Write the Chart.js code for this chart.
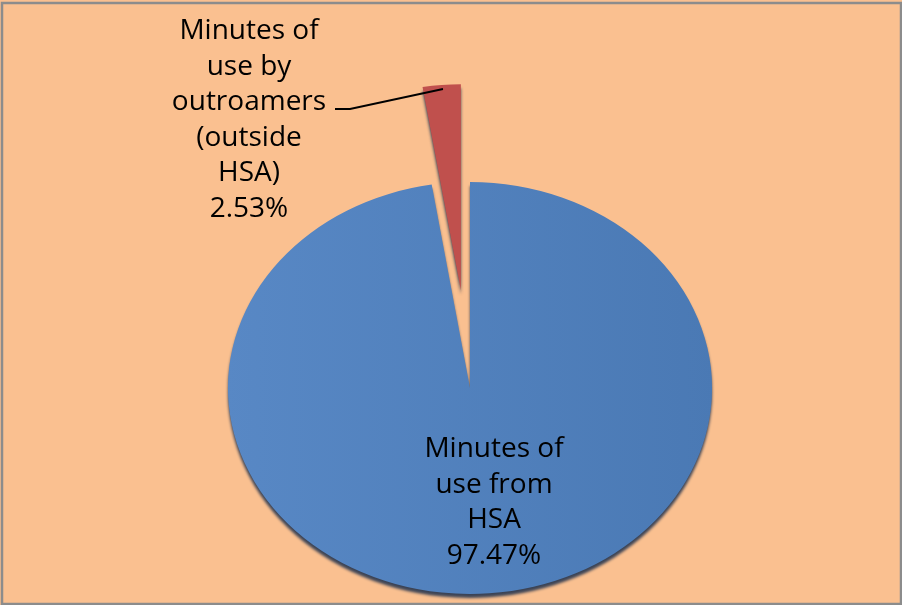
<!DOCTYPE html>
<html>
<head>
<meta charset="utf-8">
<script src="https://cdn.jsdelivr.net/npm/chart.js@4.4.1/dist/chart.umd.min.js"></script>
<style>
  html, body { margin: 0; padding: 0; background: #fff; }
  #wrap { width: 902px; height: 605px; position: relative; }
</style>
</head>
<body>
<div id="wrap"><canvas id="pie" width="902" height="605"></canvas></div>
<script>
// données
const categories = ['Minutes of use from HSA', 'Minutes of use by outroamers (outside HSA)'];
const shares = [97.47, 2.53];
const labelLines = [
    ['Minutes of', 'use from', 'HSA', '97.47%'],
    ['Minutes of', 'use by', 'outroamers', '(outside', 'HSA)', '2.53%']
];

const bgColor = '#FAC090';
const redColor = '#C0504D';
const stretchX = 1.175;     // le camembert d'origine est un peu ovale
const explode = [0, 98];    // décalage de la part rouge (px)

// fond + cadre gris
const frame = {
    id: 'frame',
    beforeDraw(chart) {
        const ctx = chart.ctx;
        ctx.save();
        ctx.fillStyle = bgColor;
        ctx.fillRect(0, 0, chart.width, chart.height);
        ctx.strokeStyle = '#8c8c8c';
        ctx.lineWidth = 2.5;
        ctx.strokeRect(2, 3, chart.width - 3, chart.height - 4);
        ctx.restore();
    }
};

// on dessine les parts nous-mêmes : étirement, part détachée, ombre 3D
const exploded = {
    id: 'exploded',
    beforeDatasetDraw(chart, args) {
        const ctx = chart.ctx;
        const arcs = args.meta.data;
        const cx = arcs[0].x, cy = arcs[0].y;
        ctx.save();
        ctx.translate(cx, cy);
        ctx.scale(stretchX, 1);
        ctx.translate(-cx, -cy);
        ctx.shadowColor = 'rgba(25,45,75,0.85)';
        ctx.shadowOffsetY = 4;
        ctx.shadowBlur = 3;
        arcs.forEach((arc, i) => {
            const mid = (arc.startAngle + arc.endAngle) / 2;
            ctx.save();
            ctx.translate(Math.cos(mid) * explode[i], Math.sin(mid) * explode[i]);
            arc.draw(ctx, chart.chartArea);
            ctx.restore();
        });
        ctx.restore();
        return false;
    }
};

// étiquettes et trait de rappel
const sliceLabels = {
    id: 'sliceLabels',
    afterDraw(chart) {
        const ctx = chart.ctx;
        ctx.save();
        ctx.fillStyle = '#000';
        ctx.font = '28px "Open Sans", sans-serif';
        ctx.textAlign = 'center';
        ctx.textBaseline = 'middle';
        const places = [{ x: 494, y: 449 }, { x: 249, y: 31 }];
        labelLines.forEach((lines, i) => {
            lines.forEach((t, j) => ctx.fillText(t, places[i].x, places[i].y + j * 35.6));
        });
        ctx.strokeStyle = '#000';
        ctx.lineWidth = 1.8;
        ctx.beginPath();
        ctx.moveTo(335, 109);
        ctx.lineTo(350, 109);
        ctx.lineTo(443, 89);
        ctx.stroke();
        ctx.restore();
    }
};

function sliceFill(context) {
    if (context.dataIndex !== 0) return redColor;
    const g = context.chart.ctx.createLinearGradient(260, 0, 680, 0);
    g.addColorStop(0, '#5888C5');
    g.addColorStop(1, '#4A79B4');
    return g;
}

new Chart(document.getElementById('pie').getContext('2d'), {
    type: 'pie',
    data: {
        labels: categories,
        datasets: [{
            data: shares,
            backgroundColor: sliceFill,
            borderWidth: 0,
            radius: 206
        }]
    },
    options: {
        responsive: false,
        animation: false,
        layout: { padding: { left: 38, right: 0, top: 171, bottom: 0 } },
        plugins: {
            legend: { display: false },
            tooltip: { enabled: false }
        }
    },
    plugins: [frame, exploded, sliceLabels]
});
</script>
</body>
</html>
